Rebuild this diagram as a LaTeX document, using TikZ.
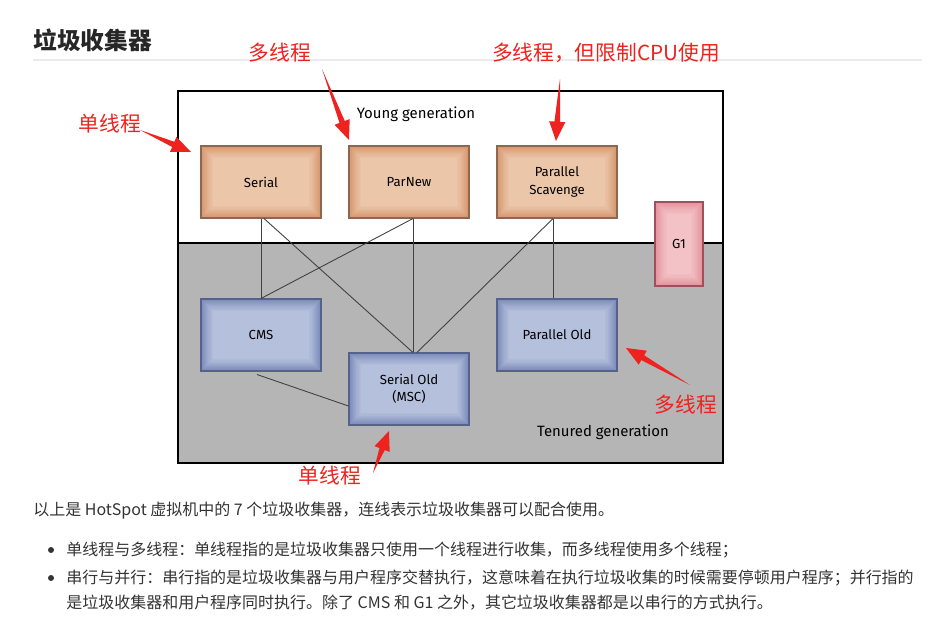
\documentclass[tikz,border=0pt]{standalone}
\usepackage{fontspec}
\setmainfont{Noto Sans CJK SC}
\newfontfamily\boxfont{Fira Sans}
\usetikzlibrary{shapes,arrows,positioning,calc,shadows}

\definecolor{redmark}{RGB}{238,34,30}
\definecolor{oldgray}{RGB}{181,181,181}
\definecolor{linegray}{RGB}{64,64,64}
\definecolor{textgray}{RGB}{51,51,51}
\definecolor{younginner}{RGB}{236,198,170}
\definecolor{youngouter}{RGB}{212,150,110}
\definecolor{youngedge}{RGB}{140,104,80}
\definecolor{oldinner}{RGB}{182,193,220}
\definecolor{oldouter}{RGB}{122,138,186}
\definecolor{oldedge}{RGB}{84,98,140}
\definecolor{gfirstinner}{RGB}{242,194,198}
\definecolor{gfirstouter}{RGB}{228,146,156}
\definecolor{gfirstedge}{RGB}{160,80,92}

% tapered red pointer: tail, tip
\newcommand{\taperarrow}[2]{%
  \path (#2) coordinate (tip) ($(#2)!11pt!(#1)$) coordinate (hb);
  \fill[redmark] (#1) -- ($(hb)!1.6pt!90:(tip)$) -- ($(hb)!4.6pt!90:(tip)$) -- (tip)
    -- ($(hb)!4.6pt!-90:(tip)$) -- ($(hb)!1.6pt!-90:(tip)$) -- cycle;}

\begin{document}
\begin{tikzpicture}[x=0.02cm, y=-0.02cm,
  every node/.style={inner sep=0pt},
  glow/.style 2 args={path picture={
    \foreach \i [evaluate=\i as \p using int(\i*9)] in {0,...,11}
      \fill[#1!\p!#2] ([shift={(\i*0.6pt,\i*0.6pt)}]path picture bounding box.south west)
        rectangle ([shift={(-\i*0.6pt,-\i*0.6pt)}]path picture bounding box.north east);}},
  gcbox/.style={line width=0.6pt, minimum width=2.4cm, minimum height=1.44cm, align=center,
    font=\boxfont\fontsize{7.5}{10}\selectfont,
    drop shadow={opacity=0.25, shadow xshift=0.8pt, shadow yshift=-0.8pt}},
  youngbox/.style={gcbox, draw=youngedge, glow={younginner}{youngouter}},
  oldbox/.style={gcbox, draw=oldedge, glow={oldinner}{oldouter}},
  genlabel/.style={font=\boxfont\fontsize{8.5}{10}\selectfont},
  redlabel/.style={text=redmark, font=\fontsize{11.8}{14}\selectfont},
  bodytext/.style={anchor=west, text=textgray, font=\fontsize{9.1}{11}\selectfont},
  bullet/.style={circle, fill=textgray, minimum size=0.12cm},
  link/.style={draw=linegray, line width=0.5pt}]
  \useasboundingbox (0,0) rectangle (948,633);

  \node[anchor=west, text=black!85, font=\fontsize{13.5}{16}\selectfont\bfseries] (title) at (33,40) {垃圾收集器};
  \draw[black!8, line width=0.6pt] (33,60) -- (922,60);

  % heap frame
  \fill[oldgray] (178,243) rectangle (723,463);
  \draw[black, line width=0.8pt] (178,91) rectangle (723,463);
  \draw[black, line width=0.8pt] (178,243) -- (723,243);

  \node[genlabel] (young) at (416,114) {Young generation};
  \node[genlabel] (tenured) at (603,432) {Tenured generation};

  \node[youngbox] (serial) at (261,182) {Serial};
  \node[youngbox] (parnew) at (409,182) {ParNew};
  \node[youngbox] (pscav) at (557,182) {Parallel\\Scavenge};
  \node[oldbox] (cms) at (261,335) {CMS};
  \node[oldbox] (sold) at (409,389) {Serial Old\\(MSC)};
  \node[oldbox] (pold) at (557,335) {Parallel Old};
  \node[gcbox, draw=gfirstedge, glow={gfirstinner}{gfirstouter}, minimum width=0.96cm, minimum height=1.68cm] (gfirst) at (679,244) {G1};

  % which collectors work together
  \draw[link] (serial.south) -- (cms.north);
  \draw[link] ([xshift=0.06cm]serial.south) -- ([xshift=0.08cm]sold.north);
  \draw[link] ([xshift=0.08cm]parnew.south) -- (cms.north);
  \draw[link] ([xshift=0.08cm]parnew.south) -- ([xshift=0.08cm]sold.north);
  \draw[link] ([xshift=-0.08cm]pscav.south) -- ([xshift=0.16cm]sold.north);
  \draw[link] ([xshift=-0.08cm]pscav.south) -- ([xshift=-0.08cm]pold.north);
  \draw[link] ([xshift=-0.08cm,yshift=-0.06cm]cms.south) -- ([yshift=-0.34cm]sold.west);

  % red notes
  \node[redlabel] (note1) at (110,124) {单线程};
  \node[redlabel] (note2) at (280,53) {多线程};
  \node[redlabel] (note3) at (606,53) {多线程，但限制CPU使用};
  \node[redlabel] (note4) at (686,405) {多线程};
  \node[redlabel] (note5) at (330,476) {单线程};
  \coordinate (tail1) at (140,130); \coordinate (tip1) at (191,152);
  \coordinate (tail2) at (322,69);  \coordinate (tip2) at (349,140);
  \coordinate (tail3) at (560,79);  \coordinate (tip3) at (556,141);
  \coordinate (tail4) at (690,385); \coordinate (tip4) at (626,348);
  \coordinate (tail5) at (373,473); \coordinate (tip5) at (389,431);
  \taperarrow{tail1}{tip1}
  \taperarrow{tail2}{tip2}
  \taperarrow{tail3}{tip3}
  \taperarrow{tail4}{tip4}
  \taperarrow{tail5}{tip5}

  % text below
  \node[bodytext] (intro) at (33,511) {以上是 HotSpot 虚拟机中的 7 个垃圾收集器，连线表示垃圾收集器可以配合使用。};
  \node[bullet] (dot1) at (51,550) {};
  \node[bullet] (dot2) at (51,578) {};
  \node[bodytext] (item1) at (66,550) {单线程与多线程：单线程指的是垃圾收集器只使用一个线程进行收集，而多线程使用多个线程；};
  \node[bodytext] (item2) at (66,578) {串行与并行：串行指的是垃圾收集器与用户程序交替执行，这意味着在执行垃圾收集的时候需要停顿用户程序；并行指的};
  \node[bodytext] (item2b) at (66,603) {是垃圾收集器和用户程序同时执行。除了 CMS 和 G1 之外，其它垃圾收集器都是以串行的方式执行。};
\end{tikzpicture}
\end{document}
